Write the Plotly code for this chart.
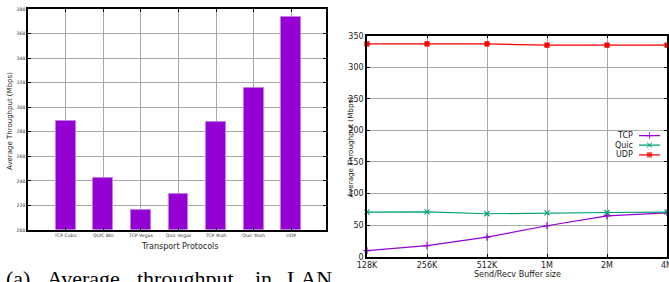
import plotly.graph_objects as go

# ---- data: left bar chart ----
protocols = ["TCP Cubic", "QUIC Bbr", "TCP Vegas", "Quic Vegas", "TCP Yeah", "Quic Yeah", "UDP"]
throughput = [289, 242.5, 216.5, 229, 288, 316, 373.5]
bar_ticks = [200, 220, 240, 260, 280, 300, 320, 340, 360, 380]

# ---- data: right line chart ----
buffer_sizes = ["128K", "256K", "512K", "1M", "2M", "4M"]
tcp_vals = [9.5, 17.5, 31, 49, 64.5, 69.5]
quic_vals = [70.5, 71, 68, 69.5, 70, 70.5]
udp_vals = [337, 337, 337, 335, 335, 335]
line_ticks = [0, 50, 100, 150, 200, 250, 300, 350]

W, H = 669, 282
def px(x):
    return x / W
def py(y):
    return 1 - y / H

fig = go.Figure()

VIOLET = "#9400D3"
GREEN = "#009E73"
RED = "#FF0000"
GRID = "#a8a8a8"

idx = list(range(len(protocols)))
fig.add_trace(go.Bar(x=idx, y=[v - 200 for v in throughput], base=200, width=0.53,
                     marker=dict(color=VIOLET, line=dict(color="#c27ee6", width=1)),
                     xaxis="x", yaxis="y", showlegend=False))

bx = list(range(len(buffer_sizes)))
series = [("TCP", tcp_vals, VIOLET, "cross-thin"),
          ("Quic", quic_vals, GREEN, "x-thin"),
          ("UDP", udp_vals, RED, "square")]
for name, vals, col, sym in series:
    fig.add_trace(go.Scatter(x=bx, y=vals, mode="lines+markers", name=name,
                             line=dict(color=col, width=1.2),
                             marker=dict(symbol=sym, size=5 if sym != "square" else 4, color=col,
                                         line=dict(color=col, width=1.2)),
                             xaxis="x2", yaxis="y2", showlegend=False, cliponaxis=False))

# manual gnuplot-style legend (text then sample)
leg_rows = [0, 1, 2]
for r, (name, vals, col, sym) in zip(leg_rows, series):
    fig.add_trace(go.Scatter(x=[0, 0.5, 1], y=[r, r, r], mode="lines+markers",
                             line=dict(color=col, width=1.2),
                             marker=dict(symbol=sym, size=[0, 5 if sym != "square" else 4, 0], color=col,
                                         line=dict(color=col, width=1.2)),
                             xaxis="x3", yaxis="y3", showlegend=False, hoverinfo="skip"))

common_axis = dict(showline=True, linecolor="black", linewidth=1.5, mirror="ticks",
                   ticks="inside", ticklen=3, tickcolor="black", gridcolor=GRID, gridwidth=1,
                   zeroline=False, automargin=False, ticklabeloverflow="allow")

fig.update_layout(
    width=W, height=H, margin=dict(l=0, r=0, t=0, b=0, autoexpand=False),
    paper_bgcolor="white", plot_bgcolor="white",
    font=dict(family="DejaVu Sans", color="#222"),
    bargap=0,
    xaxis=dict(domain=[px(28), px(326)], range=[-1.01, 6.93], tickvals=idx, ticktext=protocols,
               tickfont=dict(size=4.6, color="#333"), anchor="y", **common_axis),
    yaxis=dict(domain=[py(230), py(9)], range=[200, 380], tickvals=bar_ticks,
               tickfont=dict(size=4.6, color="#333"), anchor="x", **common_axis),
    xaxis2=dict(domain=[px(367), px(667)], range=[0, 5], tickvals=bx, ticktext=buffer_sizes,
                tickfont=dict(size=8, color="#222"), anchor="y2", **common_axis),
    yaxis2=dict(domain=[py(256.7), py(35.7)], range=[0, 350], tickvals=line_ticks,
                tickfont=dict(size=8, color="#222"), anchor="x2", **common_axis),
    xaxis3=dict(domain=[px(639), px(660)], range=[0, 1], visible=False, anchor="y3", automargin=False),
    yaxis3=dict(domain=[py(159.7), py(130.7)], range=[2.5, -0.5], visible=False, anchor="x3", automargin=False),
)

ann = []
for r, (name, vals, col, sym) in zip(leg_rows, series):
    ann.append(dict(x=0, y=r, xref="x3", yref="y3", text=name, showarrow=False,
                    xanchor="right", xshift=-4, yanchor="middle",
                    font=dict(size=8, color="#222")))
# axis titles
ann += [
    dict(x=px(10), y=py(121), xref="paper", yref="paper", text="Average Throughput (Mbps)",
         textangle=-90, showarrow=False, xanchor="center", yanchor="middle",
         font=dict(size=7, color="#222")),
    dict(x=px(179.5), y=py(246), xref="paper", yref="paper", text="Transport Protocols",
         showarrow=False, xanchor="center", yanchor="middle", font=dict(size=8, color="#222")),
    dict(x=px(350), y=py(147.5), xref="paper", yref="paper", text="Average Throughput (Mbps)",
         textangle=-90, showarrow=False, xanchor="center", yanchor="middle",
         font=dict(size=7.2, color="#222")),
    dict(x=px(517), y=py(274.5), xref="paper", yref="paper", text="Send/Recv Buffer size",
         showarrow=False, xanchor="center", yanchor="middle", font=dict(size=8, color="#222")),
]
# caption (justified LaTeX-like)
caption_words = [("(a)", 6), ("Average", 47), ("throughput", 137), ("in", 255), ("LAN", 287)]
for w, x0 in caption_words:
    ann.append(dict(x=px(x0), y=py(264), xref="paper", yref="paper", text=w, showarrow=False,
                    xanchor="left", yanchor="top", xshift=-2,
                    font=dict(family="Liberation Serif", size=22, color="black")))
fig.update_layout(annotations=ann)

fig.write_html("out.html", config={"displayModeBar": False},
               post_script="document.body.style.margin='0px';document.body.style.overflow='hidden';")
